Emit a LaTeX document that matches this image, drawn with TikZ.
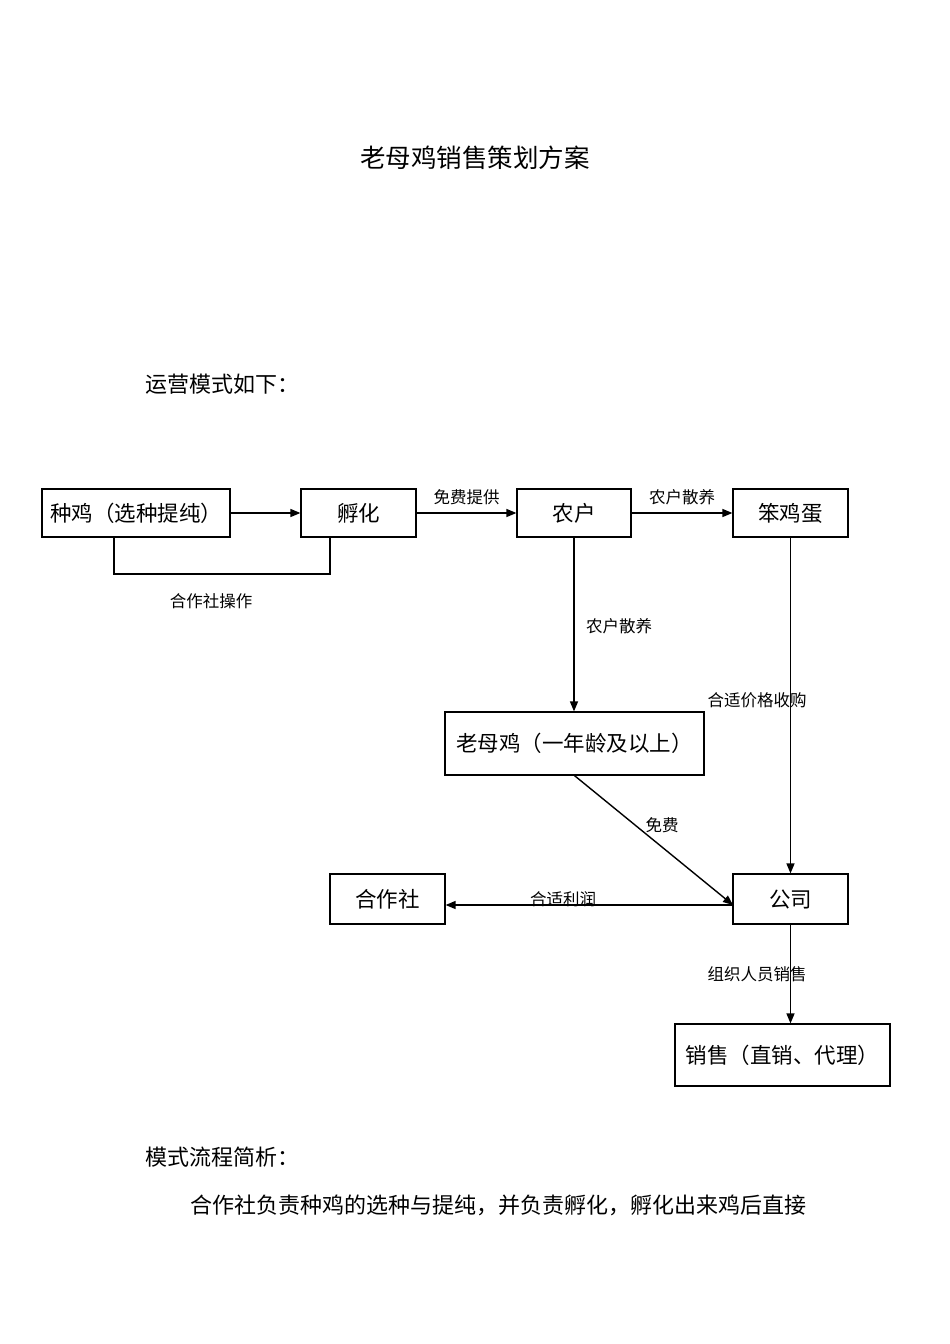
\documentclass[tikz,border=0pt]{standalone}
\usepackage{fontspec}
\setmainfont{Noto Sans CJK SC}
\usetikzlibrary{arrows.meta}
\begin{document}
\begin{tikzpicture}[x=1pt,y=-1pt,
  box/.style={draw,line width=1.2pt,inner sep=0pt,font=\fontsize{21.5}{25}\selectfont},
  lbl/.style={font=\fontsize{16.5}{19}\selectfont,inner sep=0pt},
  txt/.style={font=\fontsize{22}{26}\selectfont,inner sep=0pt,anchor=west},
  conn/.style={line width=1.4pt},
  arr/.style={conn,-{Triangle[length=10pt,width=8pt]}}]
\useasboundingbox (0,0) rectangle (950,1344);
\fill[white] (0,0) rectangle (950,1344);
% texts
\node[font=\fontsize{25.5}{30}\selectfont,inner sep=0pt] (title) at (475,158) {老母鸡销售策划方案};
\node[txt] (intro) at (145,384) {运营模式如下：};
\node[txt] (analysis) at (145,1157) {模式流程简析：};
\node[txt] (para) at (190,1205) {合作社负责种鸡的选种与提纯，并负责孵化，孵化出来鸡后直接};
% boxes
\node[box,minimum width=188pt,minimum height=48pt] (zj) at (136,513) {种鸡（选种提纯）};
\node[box,minimum width=115pt,minimum height=48pt] (fh) at (358.5,513) {孵化};
\node[box,minimum width=114pt,minimum height=48pt] (nh) at (574,513) {农户};
\node[box,minimum width=115pt,minimum height=48pt] (bjd) at (790.5,513) {笨鸡蛋};
\node[box,minimum width=259pt,minimum height=63pt] (lmj) at (574.5,743.5) {老母鸡（一年龄及以上）};
\node[box,minimum width=115pt,minimum height=50pt] (hzs) at (387.5,899) {合作社};
\node[box,minimum width=115pt,minimum height=50pt] (gs) at (790.5,899) {公司};
\node[box,minimum width=215pt,minimum height=62pt] (xs) at (782.5,1055) {销售（直销、代理）};
% connectors
\draw[arr] (zj.east) -- (fh.west);
\draw[arr] (fh.east) -- node[lbl,above=7pt] (l1) {免费提供} (nh.west);
\draw[arr] (nh.east) -- node[lbl,above=7pt] (l2) {农户散养} (bjd.west);
\coordinate (c1) at (114,574);
\coordinate (c2) at (330,574);
\draw[conn] (zj.south -| c1) -- (c1) -- (c2) -- (fh.south -| c2);
\node[lbl] (l3) at (211,601) {合作社操作};
\draw[arr] (nh.south) -- (lmj.north -| nh.south);
\node[lbl] (l4) at (619,626) {农户散养};
\draw[arr] (bjd.south) -- (gs.north);
\node[lbl] (l5) at (757,700) {合适价格收购};
\coordinate (g1) at (733,905);
\draw[arr] (lmj.south) -- (g1);
\node[lbl] (l6) at (662,825) {免费};
\draw[arr] (g1) -- (hzs.east |- g1);
\node[lbl] (l7) at (563,899) {合适利润};
\draw[arr] (gs.south) -- (xs.north -| gs.south);
\node[lbl] (l8) at (757,974) {组织人员销售};
\end{tikzpicture}
\end{document}
